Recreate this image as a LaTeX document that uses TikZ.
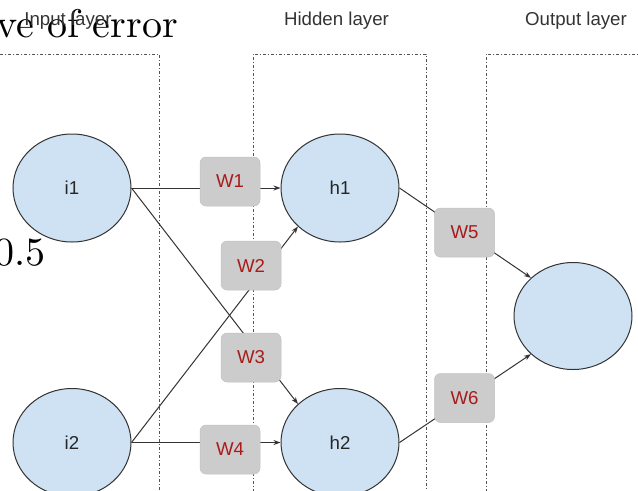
\documentclass[tikz,border=0pt]{standalone}
\usepackage{fontspec}
\newfontfamily\labelfont{Liberation Sans}
\newfontfamily\textserif{lmroman10-regular}[Extension=.otf]
\usetikzlibrary{arrows.meta,shapes.geometric}
\def\pxu{0.75pt}
\definecolor{nodeblue}{HTML}{CFE2F3}
\definecolor{wgray}{HTML}{CCCCCC}
\definecolor{wred}{HTML}{A81B1B}
\definecolor{inkgray}{HTML}{333333}
\definecolor{layergray}{HTML}{555555}
\tikzset{
  layerbox/.style={draw=layergray, line width=1*\pxu,
    dash pattern=on 3*\pxu off 2*\pxu on 1*\pxu off 2*\pxu},
  layertitle/.style={font=\labelfont\fontsize{14}{16}\selectfont, text=inkgray, anchor=base},
  neuron/.style={ellipse, draw=inkgray, line width=1*\pxu, fill=nodeblue, inner sep=0pt,
    minimum width=118*\pxu, minimum height=108*\pxu,
    font=\labelfont\fontsize{14}{16}\selectfont, text=black!85},
  weight/.style={rectangle, rounded corners=6*\pxu, fill=wgray, draw=wgray!95!black,
    line width=0.5*\pxu, minimum width=60*\pxu, minimum height=49*\pxu, inner sep=0pt,
    font=\labelfont\fontsize{14}{16}\selectfont, text=wred},
  conn/.style={draw=inkgray, line width=1*\pxu, -{Stealth[length=7*\pxu, width=5*\pxu]}},
  bigserif/.style={font=\textserif\fontsize{30}{34}\selectfont, text=black,
    anchor=base east, inner sep=0pt}
}
\begin{document}
\begin{tikzpicture}[x=0.75pt, y=-0.75pt]
  \useasboundingbox (0,0) rectangle (638,490);

  % stray serif text
  \node[bigserif] (errtext) at (178,37) {ve of error};
  \node[bigserif] (half) at (46,265) {0.5};

  % layer frames
  \draw[layerbox] (-10,500) -- (-10,54) -- (159,54) -- (159,500);
  \draw[layerbox] (253,500) -- (253,54) -- (426,54) -- (426,500);
  \draw[layerbox] (486,500) -- (486,54) -- (650,54) -- (650,500);

  % layer titles
  \node[layertitle] (tin) at (68,25) {Input layer};
  \node[layertitle] (thid) at (336.5,25) {Hidden layer};
  \node[layertitle] (tout) at (576,25) {Output layer};

  % neurons
  \node[neuron] (i1) at (72,188) {i1};
  \node[neuron] (i2) at (72,442.5) {i2};
  \node[neuron] (h1) at (340,188) {h1};
  \node[neuron] (h2) at (340,442.5) {h2};
  \node[neuron, minimum height=107*\pxu] (o) at (573,316) {};

  % connections
  \draw[conn] (i1.east) -- (h1.west);
  \draw[conn] (i1.east) -- (h2.north west);
  \draw[conn] (i2.east) -- (h1.south west);
  \draw[conn] (i2.east) -- (h2.west);
  \draw[conn] (h1.east) -- (o.north west);
  \draw[conn] (h2.east) -- (o.south west);

  % weights
  \node[weight] (w1) at (230,181.5) {W1};
  \node[weight] (w2) at (251,265.5) {W2};
  \node[weight] (w3) at (251,357.5) {W3};
  \node[weight] (w4) at (230,449.5) {W4};
  \node[weight] (w5) at (464.5,232.5) {W5};
  \node[weight] (w6) at (464.5,398) {W6};
\end{tikzpicture}
\end{document}
